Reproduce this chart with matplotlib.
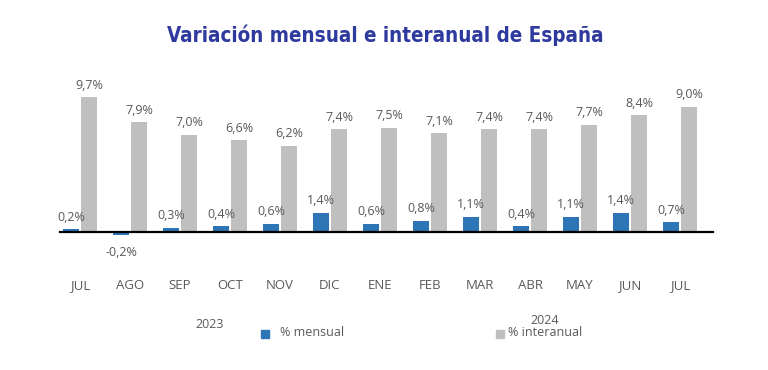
import matplotlib.pyplot as plt

# %% Data
meses = ["JUL", "AGO", "SEP", "OCT", "NOV", "DIC", "ENE", "FEB", "MAR", "ABR", "MAY", "JUN", "JUL"]
mensual = [0.2, -0.2, 0.3, 0.4, 0.6, 1.4, 0.6, 0.8, 1.1, 0.4, 1.1, 1.4, 0.7]
interanual = [9.7, 7.9, 7.0, 6.6, 6.2, 7.4, 7.5, 7.1, 7.4, 7.4, 7.7, 8.4, 9.0]
years = ["2023", "2024"]

blue = "#2e75b6"
grey = "#bfbfbf"
text_grey = "#595959"

plt.rcParams["font.family"] = ["Open Sans", "DejaVu Sans"]

W, H = 768, 370
fig = plt.figure(figsize=(W / 100, H / 100), dpi=100)

# axes box in pixels: left 60, right 713, top 80, bottom 262
ax = fig.add_axes([60 / W, 1 - 262 / H, 653 / W, 182 / H])
ax.set_xlim(-0.4, 12.66)
ax.set_ylim(-2.16, 10.94)

x = list(range(len(meses)))
off, bw = 0.18, 0.32
xb = [i - off for i in x]
xg = [i + off for i in x]
ax.bar(xb, mensual, width=bw, color=blue, zorder=2)
ax.bar(xg, interanual, width=bw, color=grey, zorder=2)

def fmt(v):
    return f"{v:.1f}".replace(".", ",") + "%"

for xi, v in zip(xb, mensual):
    if v >= 0:
        ax.annotate(fmt(v), (xi, v), xytext=(0, 4), textcoords="offset points",
                    ha="center", va="bottom", fontsize=9, color=text_grey)
    else:
        ax.annotate(fmt(v), (xi, v), xytext=(0, -8), textcoords="offset points",
                    ha="center", va="top", fontsize=9, color=text_grey)
for xi, v in zip(xg, interanual):
    ax.annotate(fmt(v), (xi, v), xytext=(0, 4), textcoords="offset points",
                ha="center", va="bottom", fontsize=9, color=text_grey)

for s in ["top", "right", "left"]:
    ax.spines[s].set_visible(False)
ax.spines["bottom"].set_position(("data", 0))
ax.spines["bottom"].set_linewidth(1.6)
ax.spines["bottom"].set_color("black")
ax.spines["bottom"].set_zorder(3)
ax.set_yticks([])
ax.set_xticks(x)
ax.set_xticklabels(meses, fontsize=9.5, color=text_grey)
ax.tick_params(axis="x", length=0, pad=34)

fig.text(385 / W, 1 - 35 / H, "Variación mensual e interanual de España", ha="center", va="center",
         fontsize=14.8, fontweight="bold", fontstretch="condensed", color="#2e3a9e",
         family="DejaVu Sans")

fig.text(210 / W, 1 - 325 / H, years[0], ha="center", va="center", fontsize=9, color=text_grey)
fig.text(545 / W, 1 - 320 / H, years[1], ha="center", va="center", fontsize=9, color=text_grey)

fig.patches.append(plt.Rectangle((261 / W, 1 - 338 / H), 8 / W, 8 / H, color=blue,
                                 transform=fig.transFigure, figure=fig))
fig.text(280 / W, 1 - 333 / H, "% mensual", ha="left", va="center", fontsize=9, color=text_grey)
fig.patches.append(plt.Rectangle((496 / W, 1 - 338 / H), 8 / W, 8 / H, color=grey,
                                 transform=fig.transFigure, figure=fig))
fig.text(508 / W, 1 - 333 / H, "% interanual", ha="left", va="center", fontsize=9, color=text_grey)

fig.savefig("out.png", dpi=100)
